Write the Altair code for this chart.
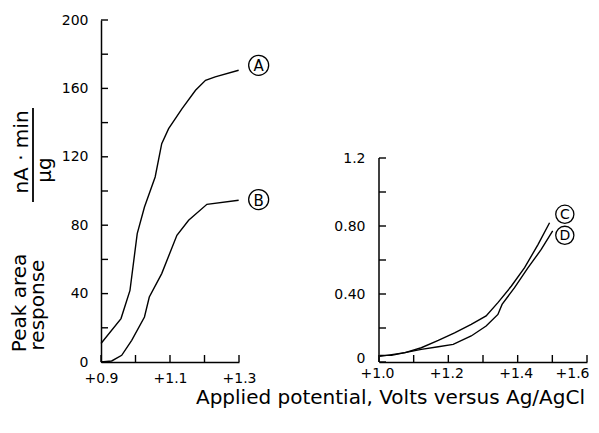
import altair as alt
import pandas as pd

FONT = "DejaVu Sans"

# ---- data ----
a_x = [0.900, 0.958, 0.984, 1.005, 1.026, 1.057, 1.076, 1.096, 1.135, 1.174, 1.203, 1.231, 1.299]
a_y = [10.8, 25.4, 41.9, 75.1, 90.6, 108.2, 127.7, 136.5, 148.2, 158.9, 164.7, 166.7, 170.6]
b_x = [0.900, 0.931, 0.960, 0.989, 1.026, 1.040, 1.076, 1.120, 1.154, 1.207, 1.299]
b_y = [0.0, 0.6, 3.9, 12.7, 26.3, 38.0, 51.7, 74.1, 82.9, 92.2, 94.6]
c_x = [1.003, 1.036, 1.075, 1.122, 1.171, 1.218, 1.266, 1.309, 1.343, 1.382, 1.420, 1.459, 1.492]
c_y = [0.039, 0.039, 0.055, 0.084, 0.127, 0.172, 0.221, 0.271, 0.349, 0.447, 0.555, 0.692, 0.819]
d_x = [1.003, 1.075, 1.122, 1.171, 1.214, 1.266, 1.309, 1.343, 1.355, 1.391, 1.430, 1.468, 1.501]
d_y = [0.033, 0.055, 0.074, 0.090, 0.104, 0.153, 0.212, 0.280, 0.339, 0.437, 0.555, 0.662, 0.771]

left_labels = ["A", "B"]
left_label_x = [1.357, 1.357]
left_label_y = [173.5, 95.0]
right_labels = ["C", "D"]
right_label_x = [1.536, 1.536]
right_label_y = [0.869, 0.745]

left_xticks = [0.9, 1.0, 1.1, 1.2, 1.3]
left_xlabels = [0.9, 1.1, 1.3]
left_yticks = [0, 20, 40, 60, 80, 100, 120, 140, 160, 180, 200]
left_ylabels = [0, 40, 80, 120, 160, 200]
right_xticks = [1.0, 1.1, 1.2, 1.3, 1.4, 1.5, 1.6]
right_xlabels = [1.0, 1.2, 1.4, 1.6]
right_yticks = [0, 0.2, 0.4, 0.6, 0.8, 1.0, 1.2]
right_ylabels = [0, 0.4, 0.8, 1.2]

y_title_lines = ["Peak area", "response"]
unit_top = "nA · min"
unit_bottom = "μg"
x_title = "Applied potential, Volts versus Ag/AgCl"

LW, LH = 138, 342
RW, RH = 208, 342

line_df_l = pd.DataFrame({"x": a_x + b_x, "y": a_y + b_y,
                          "s": ["A"] * len(a_x) + ["B"] * len(b_x)})
line_df_r = pd.DataFrame({"x": c_x + d_x, "y": c_y + d_y,
                          "s": ["C"] * len(c_x) + ["D"] * len(d_x)})

xl = alt.Scale(domain=[0.9, 1.3], nice=False, zero=False)
yl = alt.Scale(domain=[0, 200], nice=False)
xr = alt.Scale(domain=[1.0, 1.6], nice=False, zero=False)
yr = alt.Scale(domain=[0, RH / 170.0], nice=False)

lab = dict(ticks=False, grid=False, labelFont=FONT, labelFontSize=14, labelColor="black",
           labelFlush=False, labelOverlap=False)

ax_xl = alt.Axis(values=left_xlabels, labelPadding=9, domainColor="black", domainWidth=1.5,
                 labelExpr="'+' + format(datum.value, '.1f')", title=None, **lab)
ax_yl = alt.Axis(values=left_ylabels, labelPadding=13, domainColor="black", domainWidth=1.5,
                 title=None, **lab)
ax_xr = alt.Axis(values=right_xlabels, labelPadding=4, domainColor="black", domainWidth=1.5,
                 labelExpr="'+' + format(datum.value, '.1f')", title=None,
                 labelAlign={"condition": {"test": "datum.value > 1.55", "value": "right"},
                             "value": "center"},
                 labelOffset={"condition": {"test": "datum.value > 1.55", "value": 2},
                              "value": -2},
                 **lab)
ax_yr = alt.Axis(values=right_ylabels, labelPadding=14, domain=False, title=None,
                 labelExpr="datum.value == 0 ? '0' : (datum.value > 1 ? '1.2' : format(datum.value, '.2f'))",
                 labelBaseline={"condition": {"test": "datum.value == 0", "value": "alphabetic"},
                                "value": "middle"},
                 **lab)

# ---------- left panel ----------
l_lines = alt.Chart(line_df_l).mark_line(color="black", strokeWidth=1.4).encode(
    x=alt.X("x:Q", scale=xl, axis=ax_xl),
    y=alt.Y("y:Q", scale=yl, axis=ax_yl),
    detail="s:N",
)
l_yt = alt.Chart(pd.DataFrame({"y": left_yticks})).mark_tick(
    color="black", orient="horizontal", size=7, thickness=1.4, opacity=1).encode(
    y=alt.Y("y:Q", scale=yl, axis=ax_yl), x=alt.value(3.5))
l_xt = alt.Chart(pd.DataFrame({"x": left_xticks})).mark_tick(
    color="black", orient="vertical", size=7, thickness=1.4, opacity=1).encode(
    x=alt.X("x:Q", scale=xl, axis=ax_xl), y=alt.value(LH - 3.5))
l_lab_df = pd.DataFrame({"x": left_label_x, "y": left_label_y, "t": left_labels})
l_circ = alt.Chart(l_lab_df).mark_point(shape="circle", size=400, color="black",
                                        strokeWidth=1.3, filled=False, opacity=1).encode(
    x=alt.X("x:Q", scale=xl, axis=ax_xl), y=alt.Y("y:Q", scale=yl, axis=ax_yl))
l_txt = alt.Chart(l_lab_df).mark_text(font=FONT, fontSize=15, color="black",
                                      baseline="middle", dy=1).encode(
    x=alt.X("x:Q", scale=xl, axis=ax_xl), y=alt.Y("y:Q", scale=yl, axis=ax_yl), text="t:N")

# rotated y title and unit fraction (annotation text)
ttl1 = alt.Chart(pd.DataFrame({"t": [y_title_lines[0]]})).mark_text(
    font=FONT, fontSize=20, angle=270, color="black", baseline="middle").encode(
    x=alt.value(-81), y=alt.value(283), text="t:N")
ttl2 = alt.Chart(pd.DataFrame({"t": [y_title_lines[1]]})).mark_text(
    font=FONT, fontSize=20, angle=270, color="black", baseline="middle").encode(
    x=alt.value(-63), y=alt.value(285), text="t:N")
frac_top = alt.Chart(pd.DataFrame({"t": [unit_top]})).mark_text(
    font=FONT, fontSize=20, angle=270, color="black", baseline="middle").encode(
    x=alt.value(-79), y=alt.value(132), text="t:N")
frac_bot = alt.Chart(pd.DataFrame({"t": [unit_bottom]})).mark_text(
    font=FONT, fontSize=20, angle=270, color="black", baseline="middle").encode(
    x=alt.value(-56), y=alt.value(150), text="t:N")
frac_bar = alt.Chart(pd.DataFrame({"t": [0]})).mark_rule(color="black", strokeWidth=1.8).encode(
    x=alt.value(-68), y=alt.value(88), y2=alt.value(182))

left = alt.layer(l_lines, l_yt, l_xt, l_circ, l_txt, ttl1, ttl2,
                 frac_top, frac_bot, frac_bar).properties(width=LW, height=LH)

# ---------- right panel ----------
r_lines = alt.Chart(line_df_r).mark_line(color="black", strokeWidth=1.4).encode(
    x=alt.X("x:Q", scale=xr, axis=ax_xr),
    y=alt.Y("y:Q", scale=yr, axis=ax_yr),
    detail="s:N",
)
r_axis = alt.Chart(pd.DataFrame({"y": [0.0], "y2": [1.2]})).mark_rule(color="black", strokeWidth=1.5).encode(
    y=alt.Y("y:Q", scale=yr, axis=ax_yr), y2="y2:Q", x=alt.value(0))
r_yt = alt.Chart(pd.DataFrame({"y": right_yticks})).mark_tick(
    color="black", orient="horizontal", size=7, thickness=1.4, opacity=1).encode(
    y=alt.Y("y:Q", scale=yr, axis=ax_yr), x=alt.value(3.5))
r_xt = alt.Chart(pd.DataFrame({"x": right_xticks})).mark_tick(
    color="black", orient="vertical", size=7, thickness=1.4, opacity=1).encode(
    x=alt.X("x:Q", scale=xr, axis=ax_xr), y=alt.value(RH - 3.5))
r_lab_df = pd.DataFrame({"x": right_label_x, "y": right_label_y, "t": right_labels})
r_circ = alt.Chart(r_lab_df).mark_point(shape="circle", size=330, color="black",
                                        strokeWidth=1.3, filled=False, opacity=1).encode(
    x=alt.X("x:Q", scale=xr, axis=ax_xr), y=alt.Y("y:Q", scale=yr, axis=ax_yr))
r_txt = alt.Chart(r_lab_df).mark_text(font=FONT, fontSize=14, color="black",
                                      baseline="middle", dy=1).encode(
    x=alt.X("x:Q", scale=xr, axis=ax_xr), y=alt.Y("y:Q", scale=yr, axis=ax_yr), text="t:N")

right = alt.layer(r_lines, r_axis, r_yt, r_xt, r_circ, r_txt).properties(width=RW, height=RH)

chart = alt.hconcat(left, right, spacing=61).properties(
    title=alt.TitleParams(x_title, orient="bottom",
                          anchor="end", font=FONT, fontSize=20, fontWeight="normal",
                          color="black", offset=3, dx=-4),
    padding={"left": 2, "top": 5, "right": 0, "bottom": 2},
    background="white",
).configure_view(strokeWidth=0)

chart.save("out.html", embed_options={"renderer": "svg", "actions": False})
